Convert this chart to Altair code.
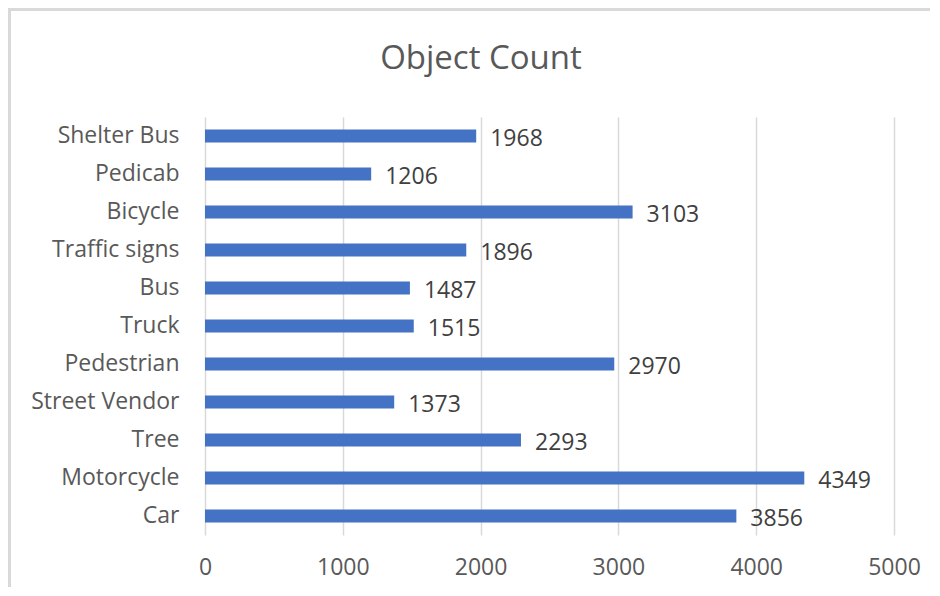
import altair as alt
import pandas as pd

categories = ["Car", "Motorcycle", "Tree", "Street Vendor", "Pedestrian", "Truck",
              "Bus", "Traffic signs", "Bicycle", "Pedicab", "Shelter Bus"]
counts = [3856, 4349, 2293, 1373, 2970, 1515, 1487, 1896, 3103, 1206, 1968]
x_ticks = [0, 1000, 2000, 3000, 4000, 5000]
title_text = "Object Count"

df = pd.DataFrame({"Object": categories, "Count": counts})
order_top_down = list(reversed(categories))

FONT = "Open Sans"

base = alt.Chart(df).encode(
    y=alt.Y("Object:N", sort=order_top_down, title=None,
            scale=alt.Scale(paddingInner=0.66, paddingOuter=0.33),
            axis=alt.Axis(domain=False, ticks=False, labelPadding=26,
                          labelFontSize=23, labelColor="#595959", labelFont=FONT,
                          grid=False)),
)

bars = base.mark_bar(color="#4472C4").encode(
    x=alt.X("Count:Q", title=None,
            scale=alt.Scale(domain=[0, 5000], nice=False),
            axis=alt.Axis(values=x_ticks, format="d", domain=False, ticks=False,
                          labelFlush=False, labelOverlap=False,
                          labelPadding=21, labelFontSize=23, labelColor="#595959",
                          labelFont=FONT, grid=True, gridColor="#d9d9d9", gridWidth=1.5)),
)

labels = base.mark_text(align="left", baseline="middle", dx=14, dy=3,
                        fontSize=23, color="#404040", font=FONT).encode(
    x="Count:Q",
    text="Count:Q",
)

title = alt.Chart(pd.DataFrame({"t": [title_text]})).mark_text(
    align="center", baseline="alphabetic", fontSize=33, font=FONT, color="#595959"
).encode(text="t:N", x=alt.value(276), y=alt.value(-48))

border_left = alt.Chart(df).mark_rule(color="#d9d9d9", strokeWidth=3).encode(
    x=alt.value(-195.5), y=alt.value(-108), y2=alt.value(490)
)
border_top = alt.Chart(df).mark_rule(color="#d9d9d9", strokeWidth=3).encode(
    x=alt.value(-197), x2=alt.value(760), y=alt.value(-107.5)
)

chart = alt.layer(bars, labels, title, border_left, border_top).properties(
    width=689,
    height=418,
    autosize=alt.AutoSizeParams(type="none"),
    padding={"left": 197, "top": 109, "right": 36, "bottom": 52},
).configure_view(stroke=None)

chart.save("out.html", embed_options={"renderer": "svg", "actions": False})
